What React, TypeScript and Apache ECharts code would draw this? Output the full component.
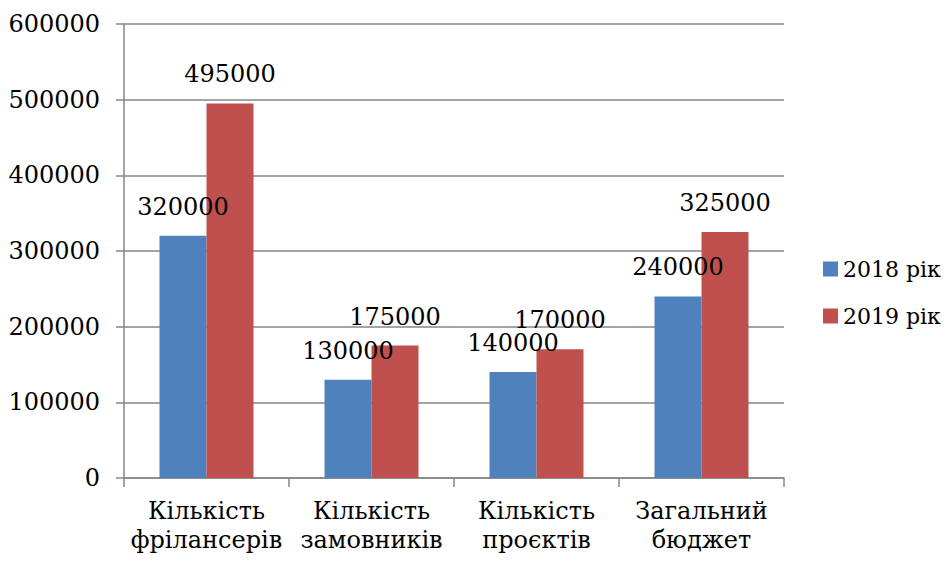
import React, { useEffect, useRef } from "react";
import * as echarts from "echarts";

const categories = ["Кількість\nфрілансерів", "Кількість\nзамовників", "Кількість\nпроєктів", "Загальний\nбюджет"];
const seriesNames = ["2018 рік", "2019 рік"];
const values2018 = [320000, 130000, 140000, 240000];
const values2019 = [495000, 175000, 170000, 325000];
const colors = ["#4F81BD", "#C0504D"];

const FONT = "DejaVu Serif";
const FS = 24;

export default function App() {
  const ref = useRef<HTMLDivElement>(null);
  useEffect(() => {
    document.body.style.margin = "0";
    const chart = echarts.init(ref.current!, null, { renderer: "svg" });
    const labelStyle = {
      show: true,
      position: "top" as const,
      distance: 17,
      color: "#000",
      fontFamily: FONT,
      fontSize: FS,
    };
    chart.setOption({
      animation: false,
      textStyle: { fontFamily: FONT },
      grid: { left: 124, right: 168, top: 24, bottom: 83, containLabel: false, outerBoundsMode: "none" },
      legend: {
        orient: "vertical",
        left: 818,
        top: 250,
        itemWidth: 15,
        itemHeight: 15,
        itemGap: 19,
        icon: "rect",
        textStyle: { color: "#000", fontFamily: FONT, fontSize: 22, lineHeight: 28 },
        data: seriesNames,
      },
      xAxis: {
        type: "category",
        data: categories,
        axisLine: { lineStyle: { color: "#868686", width: 1.5 } },
        axisTick: { show: true, length: 9, lineStyle: { color: "#868686", width: 1.5 } },
        axisLabel: { color: "#000", fontFamily: FONT, fontSize: FS, lineHeight: 29, margin: 18, interval: 0 },
      },
      yAxis: {
        type: "value",
        min: 0,
        max: 600000,
        interval: 100000,
        axisLine: { show: true, lineStyle: { color: "#868686", width: 1.5 } },
        axisTick: { show: true, length: 8, lineStyle: { color: "#868686", width: 1.5 } },
        splitLine: { lineStyle: { color: "#868686", width: 1.5 } },
        axisLabel: {
          color: "#000",
          fontFamily: FONT,
          fontSize: FS,
          margin: 24,
          formatter: (v: number) => String(v),
        },
      },
      series: [
        {
          name: seriesNames[0],
          type: "bar",
          data: values2018,
          barWidth: 47,
          barGap: "0%",
          itemStyle: { color: colors[0] },
          label: labelStyle,
        },
        {
          name: seriesNames[1],
          type: "bar",
          data: values2019,
          barWidth: 47,
          barGap: "0%",
          itemStyle: { color: colors[1] },
          label: labelStyle,
        },
      ],
    });
    return () => chart.dispose();
  }, []);
  return <div ref={ref} style={{ width: 952, height: 561 }} />;
}
